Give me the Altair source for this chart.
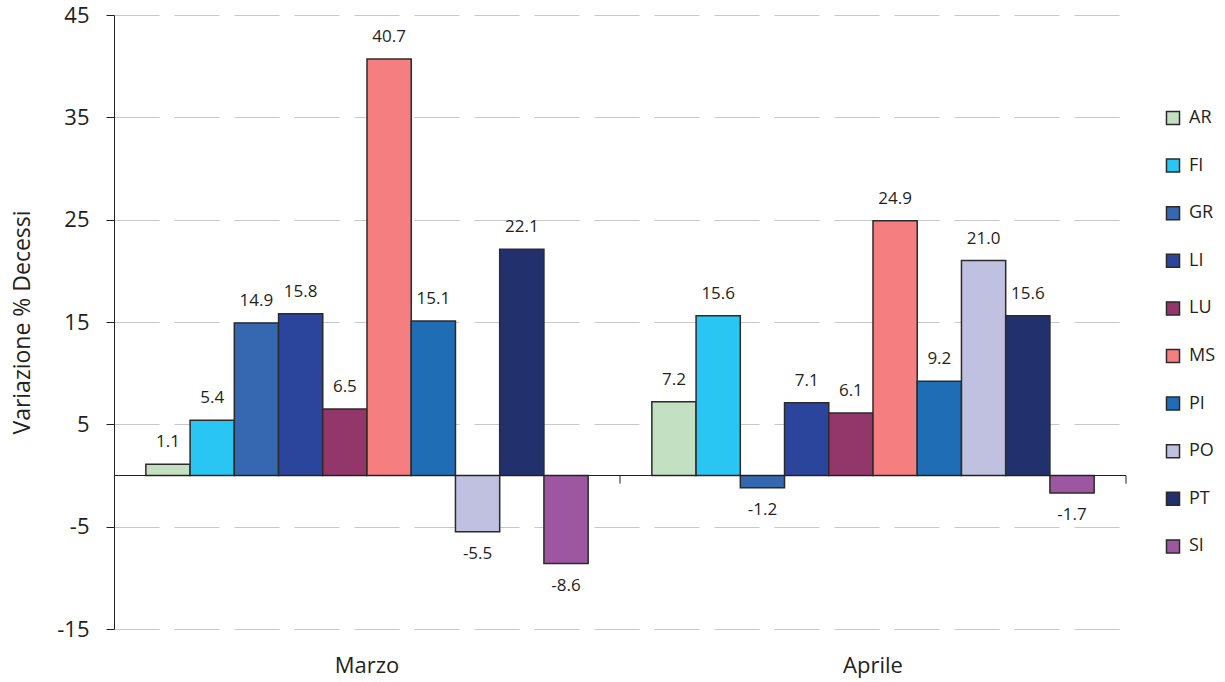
import altair as alt
import pandas as pd

# Monthly percentage change in deaths by province
months = ["Marzo", "Aprile"]
provinces = ["AR", "FI", "GR", "LI", "LU", "MS", "PI", "PO", "PT", "SI"]
marzo = [1.1, 5.4, 14.9, 15.8, 6.5, 40.7, 15.1, -5.5, 22.1, -8.6]
aprile = [7.2, 15.6, -1.2, 7.1, 6.1, 24.9, 9.2, 21.0, 15.6, -1.7]
colors = ["#c3e1c2", "#29c5f3", "#3667b1", "#2c459c", "#93366a",
          "#f47e80", "#1e6db5", "#c0c1e0", "#23306e", "#9d57a1"]
y_ticks = [-15, -5, 5, 15, 25, 35, 45]

rows = []
for m, vals in zip(months, [marzo, aprile]):
    for p, v in zip(provinces, vals):
        rows.append({"mese": m, "prov": p, "valore": v})
df = pd.DataFrame(rows)

FONT = "Open Sans"
INK = "#231f20"
HYPHEN = "replace(datum.label, '\u2212', '-')"

x_enc = alt.X(
    "mese:N", sort=months, title=None,
    scale=alt.Scale(paddingInner=0, paddingOuter=0),
    axis=alt.Axis(domain=False, ticks=False, grid=False, labelAngle=0,
                  labelFontSize=22, labelColor=INK, labelFont=FONT,
                  labelPadding=26),
)
y_scale = alt.Scale(domain=[-15, 45], nice=False, zero=False)
y_enc = alt.Y(
    "valore:Q", scale=y_scale, title="Variazione % Decessi",
    axis=alt.Axis(values=y_ticks, domainColor=INK, tickColor=INK,
                  tickSize=8, labelFontSize=22, labelColor=INK,
                  labelFont=FONT, labelPadding=17, labelExpr=HYPHEN,
                  titleFontSize=23, titleFont=FONT, titleColor=INK,
                  titleFontWeight="normal", titlePadding=22,
                  gridColor="#c8c8c8", gridDash=[45, 15], gridWidth=1),
)
off_enc = alt.XOffset("prov:N", sort=provinces,
                      scale=alt.Scale(paddingInner=0, paddingOuter=0.72))

base = alt.Chart(df).transform_calculate(
    etichetta="replace(format(datum.valore, '.1f'), '\u2212', '-')"
)

bars = base.mark_bar(stroke="#2b2b2b", strokeWidth=1.5).encode(
    x=x_enc,
    xOffset=off_enc,
    y=y_enc,
    y2=alt.datum(0),
    color=alt.Color(
        "prov:N", sort=provinces,
        scale=alt.Scale(domain=provinces, range=colors),
        legend=alt.Legend(title=None, orient="none", legendX=1050,
                          legendY=94, padding=0, symbolType="square",
                          symbolSize=170, symbolStrokeColor="#2b2b2b",
                          symbolStrokeWidth=1.5, labelFontSize=18,
                          labelFont=FONT, labelColor=INK, labelOffset=7,
                          rowPadding=27.6),
    ),
)

pos_labels = base.transform_filter("datum.valore >= 0").mark_text(
    dy=-22, fontSize=17, font=FONT, color=INK
).encode(x=x_enc, xOffset=off_enc, y=alt.Y("valore:Q", scale=y_scale),
         text="etichetta:N")

neg_labels = base.transform_filter("datum.valore < 0").mark_text(
    dy=22, fontSize=17, font=FONT, color=INK
).encode(x=x_enc, xOffset=off_enc, y=alt.Y("valore:Q", scale=y_scale),
         text="etichetta:N")

# Horizontal zero baseline across the whole plot
zero_line = alt.Chart(pd.DataFrame({"v": [0]})).mark_rule(
    color=INK, strokeWidth=1
).encode(y=alt.Y("v:Q", scale=y_scale))

# Short separator ticks hanging below the baseline between month groups
sep_df = pd.DataFrame({"mese": ["Aprile"]})
sep_mid = alt.Chart(sep_df).mark_rule(color=INK, strokeWidth=1).encode(
    x=alt.X("mese:N", sort=months, bandPosition=0),
    y=alt.datum(0), y2=alt.datum(-0.8),
)
sep_end = alt.Chart(sep_df).mark_rule(color=INK, strokeWidth=1).encode(
    x=alt.X("mese:N", sort=months, bandPosition=1),
    y=alt.datum(0), y2=alt.datum(-0.8),
)

chart = alt.layer(bars, zero_line, sep_mid, sep_end, pos_labels, neg_labels).properties(
    width=1012, height=614,
    autosize=alt.AutoSizeParams(type="none"),
    padding={"left": 114, "top": 15, "right": 99, "bottom": 53},
    background="white",
).configure_view(stroke=None).configure_axis(labelFont=FONT, titleFont=FONT)

chart.save("out.html", embed_options={"renderer": "svg", "actions": False})
